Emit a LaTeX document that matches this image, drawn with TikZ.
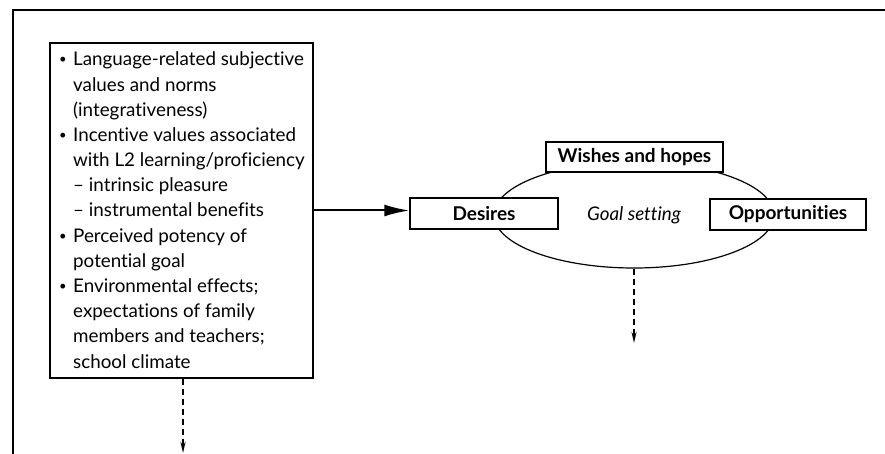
\documentclass[tikz,border=0pt]{standalone}
\usepackage{fontspec}
\setmainfont{Lato}[Ligatures=NoCommon]
\usetikzlibrary{arrows.meta,shapes.geometric}
\newcommand{\smbul}{{\fontsize{13}{13}\selectfont\raisebox{2pt}{•}}}
\begin{document}
\begin{tikzpicture}[x=1pt,y=-1pt,
  txt/.style={font=\fontsize{18.8}{20}\selectfont, inner sep=0pt, anchor=base west},
  lab/.style={draw, line width=1.4pt, fill=white, inner sep=0pt,
              font=\fontsize{19}{20}\selectfont\bfseries},
  dsh/.style={line width=1.8pt, dash pattern=on 6pt off 4pt,
              -{Stealth[length=11pt,width=5pt]}}
]
\useasboundingbox (0,0) rectangle (885,454);
% frame
\draw[line width=2.2pt] (13,454) -- (13,10) -- (885,10);
% left box
\node[draw, line width=1.4pt, minimum width=263pt, minimum height=335pt, inner sep=0pt] (factors) at (181.5,210.5) {};
\def\bx{59}\def\tx{73}
\node[txt] (b1) at (\bx,66) {\smbul};
\node[txt] (l1) at (\tx,66) {Language-related subjective};
\node[txt] (l2) at (\tx,91.2) {values and norms};
\node[txt] (l3) at (\tx,116.3) {(integrativeness)};
\node[txt] (b2) at (\bx,141.5) {\smbul};
\node[txt] (l4) at (\tx,141.5) {Incentive values associated};
\node[txt] (l5) at (\tx,166.7) {with L2 learning/proficiency};
\node[txt] (l6) at (\tx,191.8) {– intrinsic pleasure};
\node[txt] (l7) at (\tx,217) {– instrumental benefits};
\node[txt] (b3) at (\bx,242.2) {\smbul};
\node[txt] (l8) at (\tx,242.2) {Perceived potency of};
\node[txt] (l9) at (\tx,267.3) {potential goal};
\node[txt] (b4) at (\bx,292.5) {\smbul};
\node[txt] (l10) at (\tx,292.5) {Environmental effects;};
\node[txt] (l11) at (\tx,317.7) {expectations of family};
\node[txt] (l12) at (\tx,342.8) {members and teachers;};
\node[txt] (l13) at (\tx,368) {school climate};
% goal setting ellipse
\node[draw, line width=1.2pt, ellipse, minimum width=280pt, minimum height=106pt, inner sep=0pt,
      font=\fontsize{18.8}{20}\selectfont\itshape] (goal) at (634,215) {Goal setting};
\node[lab, minimum width=148pt, minimum height=31pt] (desires) at (484,213.5) {Desires};
\node[lab, minimum width=177pt, minimum height=30pt] (wishes) at (634.5,157) {Wishes and hopes};
\node[lab, minimum width=156pt, minimum height=31pt] (opp) at (788,214.5) {Opportunities};
% connectors
\draw[line width=2pt, -{Latex[length=25pt,width=12pt]}] (factors.east) -- (factors.east -| desires.west);
\coordinate (endL) at (183,453);
\coordinate (endR) at (634,343);
\draw[dsh] (factors.south -| endL) -- (endL);
\draw[dsh] (goal.south) -- (endR);
\end{tikzpicture}
\end{document}
